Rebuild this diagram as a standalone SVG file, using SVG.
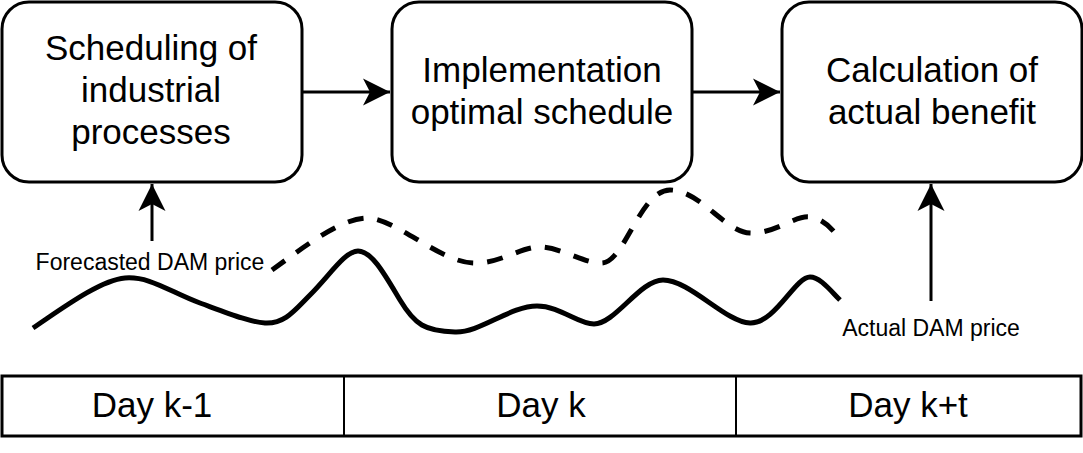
<svg xmlns="http://www.w3.org/2000/svg" width="1083" height="453" viewBox="0 0 1083 453">
<style>
.box{fill:#fff;stroke:#000;stroke-width:3}
.t{font-family:"Liberation Sans",Arial,sans-serif;fill:#000;text-anchor:middle}
.big{font-size:35px}
.small{font-size:23px}
.day{font-size:35px}
.conn{stroke:#000;stroke-width:3;fill:none}
.curve{stroke:#000;stroke-width:5;fill:none;stroke-linejoin:round}
</style>
<defs>
<marker id="ah" markerUnits="userSpaceOnUse" viewBox="0 0 28 28" refX="27" refY="14" markerWidth="28" markerHeight="28" orient="auto">
<path d="M0,0.5 L27,14 L0,27.5 L7,14 Z" fill="#000"/>
</marker>
</defs>
<rect width="1083" height="453" fill="#fff"/>
<g id="node-scheduling">
<rect class="box" x="2" y="2" width="300" height="180" rx="27" ry="27"/>
<text class="t big" x="151" y="60">Scheduling of</text>
<text class="t big" x="151" y="102">industrial</text>
<text class="t big" x="151" y="144">processes</text>
</g>
<g id="node-implementation">
<rect class="box" x="392" y="2" width="300" height="180" rx="27" ry="27"/>
<text class="t big" x="542" y="82">Implementation</text>
<text class="t big" x="542" y="124">optimal schedule</text>
</g>
<g id="node-calculation">
<rect class="box" x="782" y="2" width="300" height="180" rx="27" ry="27"/>
<text class="t big" x="932" y="82">Calculation of</text>
<text class="t big" x="932" y="124">actual benefit</text>
</g>
<g id="connectors">
<line class="conn" x1="302" y1="92" x2="390" y2="92" marker-end="url(#ah)"/>
<line class="conn" x1="692" y1="92" x2="780" y2="92" marker-end="url(#ah)"/>
<line class="conn" x1="152" y1="241" x2="152" y2="184" marker-end="url(#ah)"/>
<line class="conn" x1="931" y1="301" x2="931" y2="184" marker-end="url(#ah)"/>
</g>
<g id="label-forecasted">
<text class="t small" x="150" y="270">Forecasted DAM price</text>
</g>
<g id="label-actual">
<text class="t small" x="931" y="336">Actual DAM price</text>
</g>
<g id="curves">
<path class="curve" d="M33,328 C60,310 100,280 125,278 C150,276 170,292 200,303 C230,314 250,322 265,323 C285,324 295,310 310,295 C330,275 345,251 358,251 C372,251 385,275 400,300 C415,325 425,331 455,332 C480,333 510,306 537,306 C560,306 578,324 594,324 C615,324 640,280 663,280 C690,280 725,322 750,323 C775,324 795,277 810,277 C820,277 830,290 840,300"/>
<path class="curve" stroke-dasharray="16 14" d="M272,270 C300,250 340,218 367,218 C395,218 440,262 473,263 C500,264 520,247 540,247 C560,247 585,264 602,263 C625,262 640,190 670,190 C700,190 725,232 750,233 C775,234 795,215 810,217 C825,219 835,232 840,240"/>
</g>
<g id="timeline">
<rect x="2" y="376" width="1079" height="60" fill="#fff" stroke="#000" stroke-width="3"/>
<line x1="344" y1="376" x2="344" y2="436" stroke="#000" stroke-width="2"/>
<line x1="736" y1="376" x2="736" y2="436" stroke="#000" stroke-width="2"/>
<text class="t day" x="152" y="417">Day k-1</text>
<text class="t day" x="541" y="417">Day k</text>
<text class="t day" x="908" y="417">Day k+t</text>
</g>
</svg>
